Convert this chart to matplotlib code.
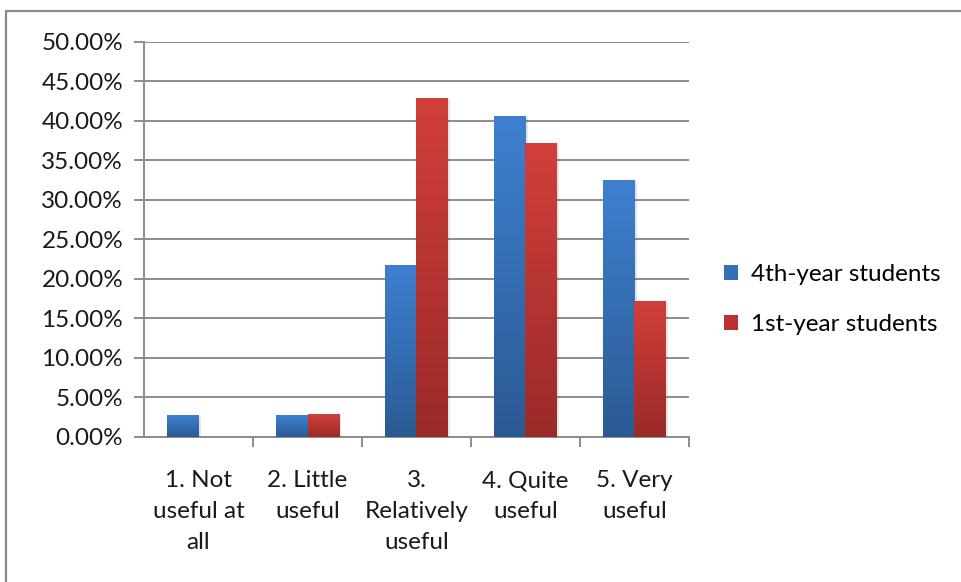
import numpy as np
import matplotlib
matplotlib.use("Agg")
import matplotlib.pyplot as plt
from matplotlib.patches import Rectangle
from matplotlib.colors import LinearSegmentedColormap
from matplotlib.ticker import FuncFormatter, FixedLocator

categories = ["1. Not\nuseful at\nall", "2. Little\nuseful", "3.\nRelatively\nuseful",
              "4. Quite\nuseful", "5. Very\nuseful"]
fourth_year = [2.66, 2.66, 21.7, 40.6, 32.5]
first_year = [0.0, 2.84, 42.9, 37.2, 17.1]
series_names = ["4th-year students", "1st-year students"]

plt.rcParams["font.family"] = ["Lato", "DejaVu Sans"]
FS = 17.5

fig = plt.figure(figsize=(9.62, 5.82), dpi=100)
ax = fig.add_axes([0.1497, 0.2497, 0.5665, 0.6787])

# chart frame (runs off the right and bottom edges)
fig.patches.append(Rectangle((6 / 962, -0.05), 1.2, 1 - 11 / 582 + 0.05,
                             transform=fig.transFigure, fill=False,
                             edgecolor="#8a8a8a", linewidth=1.6))

blue_cmap = LinearSegmentedColormap.from_list("b", ["#2b5a93", "#3e80d0"])
red_cmap = LinearSegmentedColormap.from_list("r", ["#9a2a28", "#d23f3b"])

x = np.arange(len(categories))
width = 1 / 3.5


def gradient_bars(xs, vals, cmap):
    grad = np.linspace(0, 1, 256).reshape(-1, 1)
    for xc, v in zip(xs, vals):
        if v <= 0:
            continue
        # soft drop shadow
        ax.add_patch(Rectangle((xc - width / 2 + 0.025, 0), width, v - 0.15,
                               facecolor="#000000", alpha=0.10, edgecolor="none", zorder=2))
        ax.imshow(grad, extent=[xc - width / 2, xc + width / 2, 0, v], origin="lower",
                  cmap=cmap, aspect="auto", zorder=3, interpolation="bilinear")


gradient_bars(x - width / 2, fourth_year, blue_cmap)
gradient_bars(x + width / 2, first_year, red_cmap)

ax.set_xlim(-0.5, len(categories) - 0.5)
ax.set_ylim(0, 50)
ax.set_yticks(np.arange(0, 50.1, 5))
ax.yaxis.set_major_formatter(FuncFormatter(lambda v, p: f"{v:.2f}%"))
ax.grid(axis="y", color="#8c8c8c", linewidth=1.4, zorder=1)
ax.set_axisbelow(True)

ax.set_xticks(x)
ax.set_xticklabels(categories, fontsize=FS, linespacing=1.6, va="top")
ax.xaxis.set_minor_locator(FixedLocator(np.arange(0.5, len(categories), 1)))
ax.tick_params(axis="x", which="major", length=0, pad=24, colors="#1a1a1a")
ax.tick_params(axis="x", which="minor", length=7, width=1.4, color="#8c8c8c")
ax.tick_params(axis="y", length=7, width=1.4, color="#8c8c8c", pad=8,
               labelsize=FS, labelcolor="#1a1a1a")

for side in ("top", "right"):
    ax.spines[side].set_visible(False)
for side in ("left", "bottom"):
    ax.spines[side].set_color("#8c8c8c")
    ax.spines[side].set_linewidth(1.4)

handles = [Rectangle((0, 0), 1, 1, facecolor="#356fb6"),
           Rectangle((0, 0), 1, 1, facecolor="#b8332f")]
fig.legend(handles, series_names, loc="center left", bbox_to_anchor=(0.730, 0.485),
           frameon=False, fontsize=FS, handlelength=0.55, handleheight=0.55,
           handletextpad=0.55, labelspacing=1.2)

fig.savefig("out.png", dpi=100)
